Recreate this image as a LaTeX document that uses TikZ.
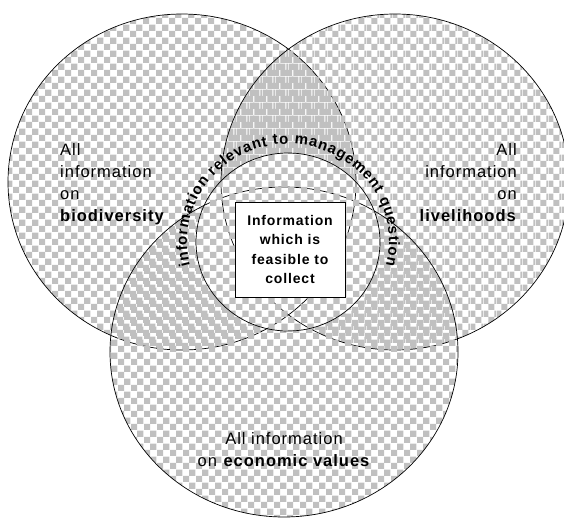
\documentclass[tikz,border=0pt]{standalone}
\usepackage{fontspec}
\setmainfont{Liberation Sans}
\usepackage{tikz}
\usetikzlibrary{patterns, decorations.text}
\usepackage{xcolor}
\definecolor{checkgrey}{RGB}{192,192,192}

\pgfdeclarepatternformonly{checks}{\pgfpointorigin}{\pgfqpoint{13.2pt}{13.2pt}}{\pgfqpoint{13.2pt}{13.2pt}}{%
	\pgfpathrectangle{\pgfpointorigin}{\pgfqpoint{6.6pt}{6.6pt}}
	\pgfpathrectangle{\pgfqpoint{6.6pt}{6.6pt}}{\pgfqpoint{6.6pt}{6.6pt}}
	\pgfusepath{fill}
}
\pgfdeclarepatternformonly{checks shifted}{\pgfpointorigin}{\pgfqpoint{13.2pt}{13.2pt}}{\pgfqpoint{13.2pt}{13.2pt}}{%
	\pgfpathrectangle{\pgfqpoint{4.5pt}{0pt}}{\pgfqpoint{6.6pt}{6.6pt}}
	\pgfpathrectangle{\pgfqpoint{11.1pt}{6.6pt}}{\pgfqpoint{2.1pt}{6.6pt}}
	\pgfpathrectangle{\pgfqpoint{0pt}{6.6pt}}{\pgfqpoint{4.5pt}{6.6pt}}
	\pgfusepath{fill}
}

\tikzset{%
	every set/.style={
		line width=0.7pt,
		pattern color=checkgrey
	},
	set label/.style={
		inner sep=0pt,
		font=\fontsize{16.5}{22}\selectfont\addfontfeature{LetterSpace=6}
	},
	feasible box/.style={
		draw, fill=white, line width=0.7pt,
		minimum width=110pt, minimum height=95pt,
		align=center, inner sep=0pt,
		font=\bfseries\fontsize{14}{19.3}\selectfont\addfontfeature{LetterSpace=6}
	},
}

\begin{document}
\begin{tikzpicture}[x=1pt, y=-1pt]
	\useasboundingbox (0,0) rectangle (564,520);
	
	\coordinate (bio) at (182,182);
	\coordinate (live) at (395,182);
	\coordinate (econ) at (284,352);
	\coordinate (relevant) at (288,242);
	
	% each set is laid over the one before
	\foreach \s/\p/\ry in {bio/checks/168, live/checks shifted/168, econ/checks/165} {
		\fill [every set, pattern=\p] (\s) ellipse [x radius=174, y radius=\ry];
		\draw [every set] (\s) ellipse [x radius=174, y radius=\ry];
	}
	
	\fill [white] (relevant) ellipse [x radius=92, y radius=89];
	\begin{scope}
		\clip (relevant) ellipse [x radius=92, y radius=89];
		\foreach \s/\ry in {bio/168, live/168, econ/165}
		\draw [every set] (\s) ellipse [x radius=174, y radius=\ry];
	\end{scope}
	\fill [every set, pattern=checks] (relevant) ellipse [x radius=92, y radius=89];
	\draw [every set] (relevant) ellipse [x radius=92, y radius=89];
	
	\path [decorate, decoration={text along path, text align={fit to path},
		text={|\bfseries\fontsize{15}{15}\selectfont|information relevant to management question}}]
		([shift={(166:101 and 98)}]relevant) arc [start angle=166, end angle=374, x radius=101, y radius=98];
	
	\node [set label, anchor=north west, align=left] (bio-label) at (60,143) {All\\information\\on\\\textbf{biodiversity}};
	\node [set label, anchor=north east, align=right] (live-label) at (517,143) {All\\information\\on\\\textbf{livelihoods}};
	\node [set label, anchor=north, align=center] (econ-label) at (284,432) {All information\\on \textbf{economic values}};
	
	\node [feasible box] (feasible) at (290,249.5) {Information\\which is\\feasible to\\collect};
	
\end{tikzpicture}
\end{document}
